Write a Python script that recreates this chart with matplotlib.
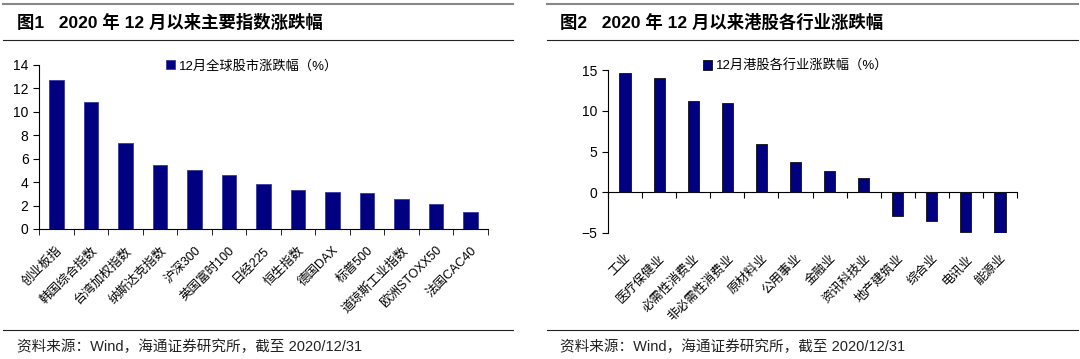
import matplotlib.pyplot as plt
import numpy as np

plt.rcParams['font.family'] = ['Liberation Sans', 'Noto Sans CJK SC', 'DejaVu Sans']

# 图1 数据
idx_names = ['创业板指', '韩国综合指数', '台湾加权指数', '纳斯达克指数', '沪深300', '英国富时100',
             '日经225', '恒生指数', '德国DAX', '标普500', '道琼斯工业指数', '欧洲STOXX50', '法国CAC40']
idx_values = [12.7, 10.85, 7.3, 5.45, 5.0, 4.6, 3.8, 3.35, 3.2, 3.05, 2.6, 2.1, 1.45]
idx_yticks = [0, 2, 4, 6, 8, 10, 12, 14]

# 图2 数据
ind_names = ['工业', '医疗保健业', '必需性消费业', '非必需性消费业', '原材料业', '公用事业',
             '金融业', '资讯科技业', '地产建筑业', '综合业', '电讯业', '能源业']
ind_values = [14.6, 14.0, 11.15, 11.0, 5.95, 3.75, 2.65, 1.8, -2.9, -3.5, -4.9, -5.0]
ind_yticks = [-5, 0, 5, 10, 15]

bar_color = '#000080'
W, H = 1080, 359

fig = plt.figure(figsize=(10.8, 3.59), dpi=100)


def fx(px):
    return px / W


def fy(py):
    return 1 - py / H


# 标题和分隔线
for x0, x1, tx, title in [(3, 513, 17, '图1   2020 年 12 月以来主要指数涨跌幅'),
                          (547, 1078, 560, '图2   2020 年 12 月以来港股各行业涨跌幅')]:
    fig.add_artist(plt.Line2D([fx(x0), fx(x1)], [fy(3.5), fy(3.5)], color='#888888', lw=1.5))
    fig.add_artist(plt.Line2D([fx(x0), fx(x1)], [fy(40), fy(40)], color='#222222', lw=0.8))
    fig.add_artist(plt.Line2D([fx(x0), fx(x1)], [fy(330), fy(330)], color='#222222', lw=0.8))
    fig.text(fx(tx), fy(22), title, fontsize=12.5, fontweight='bold', va='center', ha='left')
    fig.text(fx(tx), fy(347), '资料来源：Wind，海通证券研究所，截至 2020/12/31',
             fontsize=10.5, va='center', ha='left', color='#222222')

# 图1
ax1 = fig.add_axes([fx(39), fy(229), fx(488 - 39), 164 / H])
x1 = np.arange(len(idx_values))
bars1 = ax1.bar(x1, idx_values, width=0.42, color=bar_color, edgecolor='#3a3aa0', linewidth=0.6,
                label='12月全球股市涨跌幅（%）')
ax1.set_xlim(-0.5, len(idx_values) - 0.5)
ax1.set_ylim(0, 14)
ax1.set_yticks(idx_yticks)
ax1.set_xticks(x1)
ax1.set_xticklabels(idx_names, rotation=45, ha='right', rotation_mode='anchor', fontsize=9)
ax1.set_xticks(np.arange(len(idx_values) + 1) - 0.5, minor=True)
ax1.tick_params(axis='x', which='major', length=0, pad=11)
ax1.tick_params(axis='x', which='minor', length=4, direction='out')
ax1.tick_params(axis='y', length=4, direction='out', labelsize=10)
for s in ['top', 'right']:
    ax1.spines[s].set_visible(False)
fig.legend(handles=[bars1], loc='center', bbox_to_anchor=(fx(252), fy(66)), frameon=False,
           fontsize=9.5, handlelength=0.7, handleheight=0.7, handletextpad=0.3)

# 图2
ax2 = fig.add_axes([fx(608), fy(233), fx(1017 - 608), 163 / H])
x2 = np.arange(len(ind_values))
bars2 = ax2.bar(x2, ind_values, width=0.33, color=bar_color, edgecolor='#111111', linewidth=0.6,
                label='12月港股各行业涨跌幅（%）')
ax2.set_xlim(-0.5, len(ind_values) - 0.5)
ax2.set_ylim(-5, 15)
ax2.set_yticks(ind_yticks)
ax2.set_xticks(x2)
ax2.set_xticklabels(ind_names, rotation=45, ha='right', rotation_mode='anchor', fontsize=9)
ax2.tick_params(axis='x', length=0, pad=14)
ax2.tick_params(axis='y', length=4, direction='out', labelsize=10)
for s in ['top', 'right', 'bottom']:
    ax2.spines[s].set_visible(False)
zero_frac = (0 - ind_yticks[0]) / (ind_yticks[-1] - ind_yticks[0])
sec = ax2.secondary_xaxis(zero_frac)
sec.set_xticks(np.arange(len(ind_values) + 1) - 0.5)
sec.set_xticklabels([])
sec.tick_params(length=4, direction='out')
fig.legend(handles=[bars2], loc='center', bbox_to_anchor=(fx(796), fy(66)), frameon=False,
           fontsize=9.5, handlelength=0.7, handleheight=0.7, handletextpad=0.3)

fig.savefig('out.png', dpi=100)
